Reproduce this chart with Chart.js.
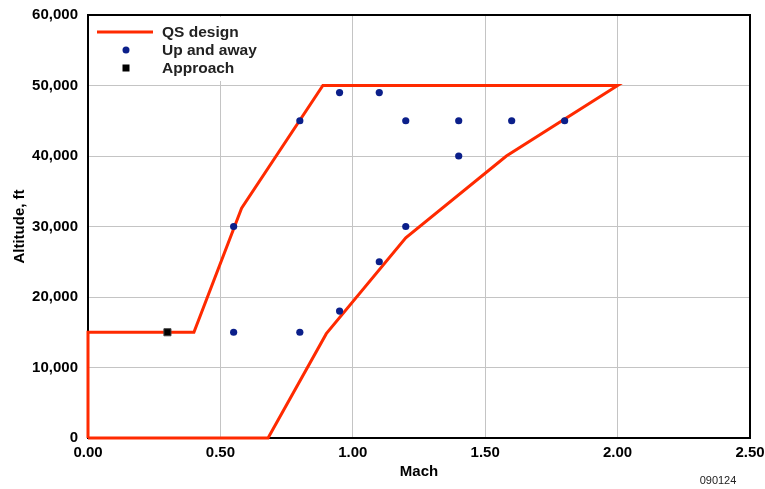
<!DOCTYPE html>
<html>
<head>
<meta charset="utf-8">
<script src="https://cdn.jsdelivr.net/npm/chart.js@4/dist/chart.umd.min.js"></script>
<style>
  body { margin: 0; background: #fff; }
  #wrap { width: 765px; height: 489px; position: relative; }
</style>
</head>
<body>
<div id="wrap"><canvas id="envelope"></canvas></div>
<script>
// QS design envelope boundary, traced corner to corner
const boundaryMach = [0, 0, 0.4, 0.58, 0.887, 2.0, 1.58, 1.2, 0.9, 0.68, 0];
const boundaryAlt = [0, 15000, 15000, 32600, 50000, 50000, 40000, 28400, 14800, 0, 0];

// up-and-away test points
const upMach = [0.55, 0.8, 0.95, 0.55, 1.1, 1.2, 0.8, 0.95, 1.1, 1.2, 1.4, 1.4, 1.6, 1.8];
const upAlt = [15000, 15000, 18000, 30000, 25000, 30000, 45000, 49000, 49000, 45000, 45000, 40000, 45000, 45000];

// approach point
const approachMach = [0.3];
const approachAlt = [15000];

const machTicks = [0, 0.5, 1.0, 1.5, 2.0, 2.5];
const altTicks = [0, 10000, 20000, 30000, 40000, 50000, 60000];

const FONT = '"Liberation Sans", Arial, Helvetica, sans-serif';
const RED = '#ff2a00';
const NAVY = '#0b1f8a';

function pts(xs, ys) {
  return xs.map((x, i) => ({ x: x, y: ys[i] }));
}

// frame around the plot plus a white legend box in the upper left
const framePlugin = {
  id: 'frame',
  beforeDatasetsDraw(chart) {
    const { ctx, chartArea: a } = chart;
    ctx.save();
    ctx.fillStyle = '#fff';
    ctx.fillRect(a.left + 1, a.top + 2, 190, 64);

    ctx.strokeStyle = '#000';
    ctx.lineWidth = 2;
    ctx.strokeRect(a.left, a.top, a.right - a.left, a.bottom - a.top);

    const ds = chart.data.datasets;
    const tx = a.left + 74;
    const rows = [a.top + 17, a.top + 35, a.top + 53];
    ctx.font = 'bold 15.5px ' + FONT;
    ctx.fillStyle = '#222';
    ctx.textBaseline = 'middle';
    ds.forEach((d, i) => ctx.fillText(d.label, tx, rows[i] + 1));

    ctx.strokeStyle = RED;
    ctx.lineWidth = 3;
    ctx.beginPath();
    ctx.moveTo(a.left + 9, rows[0]);
    ctx.lineTo(a.left + 65, rows[0]);
    ctx.stroke();

    ctx.fillStyle = NAVY;
    ctx.beginPath();
    ctx.arc(a.left + 38, rows[1], 3.5, 0, Math.PI * 2);
    ctx.fill();

    ctx.fillStyle = '#000';
    ctx.fillRect(a.left + 34.5, rows[2] - 3.5, 7, 7);
    ctx.restore();
  },
  afterDraw(chart) {
    const ctx = chart.ctx;
    ctx.save();
    ctx.font = '11px ' + FONT;
    ctx.fillStyle = '#222';
    ctx.textAlign = 'center';
    ctx.textBaseline = 'middle';
    ctx.fillText('090124', 718, 481);
    ctx.restore();
  }
};

new Chart(document.getElementById('envelope'), {
  type: 'scatter',
  data: {
    datasets: [
      {
        label: 'QS design',
        data: pts(boundaryMach, boundaryAlt),
        showLine: true,
        borderColor: RED,
        borderWidth: 3,
        pointRadius: 0,
        clip: false,
        order: 3
      },
      {
        label: 'Up and away',
        data: pts(upMach, upAlt),
        backgroundColor: NAVY,
        borderWidth: 0,
        pointRadius: 3.6,
        clip: false,
        order: 1
      },
      {
        label: 'Approach',
        data: pts(approachMach, approachAlt),
        pointStyle: 'rect',
        backgroundColor: '#000',
        borderColor: '#444',
        borderWidth: 1,
        pointRadius: 5,
        clip: false,
        order: 0
      }
    ]
  },
  options: {
    responsive: true,
    maintainAspectRatio: false,
    animation: false,
    layout: { padding: { top: 15, right: 15, left: 0, bottom: 0 } },
    plugins: {
      legend: { display: false },
      tooltip: { enabled: false }
    },
    scales: {
      x: {
        type: 'linear',
        min: 0,
        max: 2.5,
        afterBuildTicks: (s) => { s.ticks = machTicks.map(v => ({ value: v })); },
        afterFit: (s) => { s.height = 51; s.paddingLeft = 0; s.paddingRight = 0; },
        grid: { color: '#c4c4c4', lineWidth: 1, drawTicks: false },
        border: { display: false },
        ticks: {
          padding: 6,
          color: '#000',
          font: { family: FONT, size: 15, weight: 'bold' },
          maxRotation: 0,
          callback: (v) => Number(v).toFixed(2)
        },
        title: {
          display: true,
          text: 'Mach',
          color: '#000',
          padding: { top: 0, bottom: 8 },
          font: { family: FONT, size: 15, weight: 'bold' }
        }
      },
      y: {
        type: 'linear',
        min: 0,
        max: 60000,
        afterBuildTicks: (s) => { s.ticks = altTicks.map(v => ({ value: v })); },
        afterFit: (s) => { s.width = 88; s.paddingTop = 0; s.paddingBottom = 0; },
        grid: { color: '#c4c4c4', lineWidth: 1, drawTicks: false },
        border: { display: false },
        ticks: {
          padding: 10,
          color: '#000',
          font: { family: FONT, size: 15, weight: 'bold' },
          callback: (v) => Number(v).toLocaleString('en-US')
        },
        title: {
          display: true,
          text: 'Altitude, ft',
          color: '#000',
          padding: { top: 11, bottom: 0 },
          font: { family: FONT, size: 15, weight: 'bold' }
        }
      }
    }
  },
  plugins: [framePlugin]
});
</script>
</body>
</html>
